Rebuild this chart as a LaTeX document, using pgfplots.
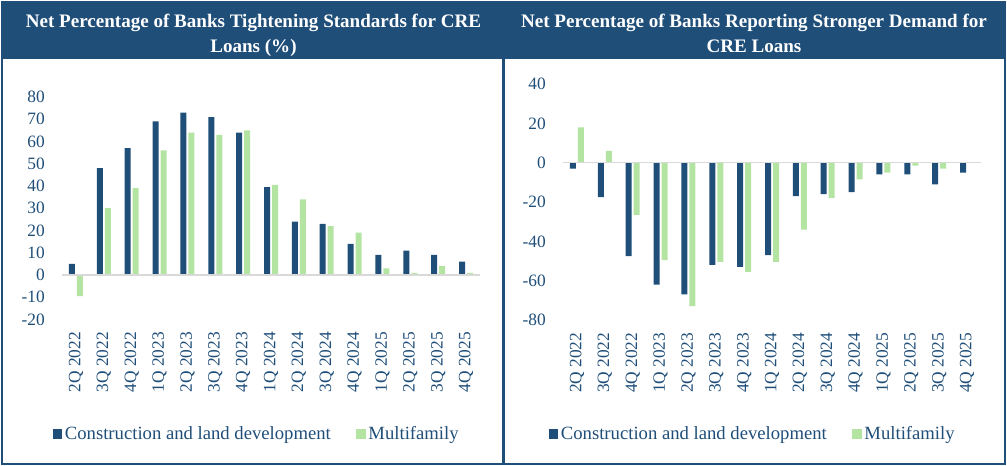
\documentclass[border=0pt]{standalone}
\usepackage{fontspec}
\setmainfont{Liberation Serif}
\usepackage{pgfplots}
\pgfplotsset{compat=1.18}
\definecolor{navy}{HTML}{1F4E79}
\definecolor{lgreen}{HTML}{B4E4A1}
\definecolor{zline}{HTML}{D9D9D9}
\pgfplotsset{
  mybars/.style={
    scale only axis, width=313.5pt, anchor=south west,
    ybar=1.5pt, bar width=4.5pt,
    xmin=-0.5, xmax=14.5, enlargelimits=false,
    xtick={0,...,14},
    xticklabels={2Q 2022,3Q 2022,4Q 2022,1Q 2023,2Q 2023,3Q 2023,4Q 2023,1Q 2024,2Q 2024,3Q 2024,4Q 2024,1Q 2025,2Q 2025,3Q 2025,4Q 2025},
    axis line style={draw=none}, major tick length=0pt, tick style={draw=none},
    xtick pos=bottom, ytick pos=left,
    /pgf/number format/assume math mode=true,
    xticklabel style={yshift=-9.4pt, rotate=90, anchor=east, inner sep=0pt, font=\fontsize{13}{15}\selectfont, text=navy},
    yticklabel style={anchor=east, inner sep=0pt, xshift=-12.75pt, font=\fontsize{13}{15}\selectfont, text=navy},
    legend columns=2, legend cell align=left,
    legend style={draw=none, fill=none, anchor=center, font=\fontsize{14}{16}\selectfont, text=navy,
      /tikz/every even column/.append style={column sep=17pt}},
    legend image code/.code={\draw[##1,/tikz/.cd,draw=none] (0pt,-3.6pt) rectangle (7.2pt,3.6pt);},
  }
}
\begin{document}
\begin{tikzpicture}
\path[use as bounding box] (0,0) rectangle (755.25pt,349.5pt);
\fill[navy] (0.6pt,305.25pt) rectangle (754.6pt,348.5pt);
\draw[navy, line width=1.9pt] (1.5pt,305.25pt) -- (1.5pt,1.5pt) -- (753.75pt,1.5pt) -- (753.75pt,305.25pt);
\draw[navy, line width=2.2pt] (377.6pt,305.25pt) -- (377.6pt,1.5pt);
\node[anchor=base, text=white, font=\fontsize{14.3}{18}\selectfont\bfseries] at (190.1pt,328.5pt) {Net Percentage of Banks Tightening Standards for CRE};
\node[anchor=base, text=white, font=\fontsize{14.3}{18}\selectfont\bfseries] at (190.1pt,309.75pt) {Loans (\%)};
\node[anchor=base, text=white, font=\fontsize{14.3}{18}\selectfont\bfseries] at (565.5pt,328.5pt) {Net Percentage of Banks Reporting Stronger Demand for};
\node[anchor=base, text=white, font=\fontsize{14.3}{18}\selectfont\bfseries] at (565.5pt,309.75pt) {CRE Loans};

\begin{axis}[mybars, at={(46.5pt,109.875pt)}, height=166.875pt,
  ymin=-20, ymax=80, ytick={-20,-10,...,80},
  legend style={at={(0.4665,-0.5146)}}]
\addplot[fill=navy, draw=none] coordinates {(0,5) (1,48) (2,57) (3,69) (4,73) (5,71) (6,64) (7,39.5) (8,24) (9,23) (10,14) (11,9) (12,11) (13,9) (14,6)};
\addplot[fill=lgreen, draw=none] coordinates {(0,-9.5) (1,30) (2,39) (3,56) (4,64) (5,63) (6,65) (7,40.5) (8,34) (9,22) (10,19) (11,3) (12,1) (13,4) (14,1)};
\draw[zline, line width=1.1pt] (axis cs:-0.5,0) -- (axis cs:14.5,0);
\legend{Construction and land development, Multifamily}
\end{axis}

\begin{axis}[mybars, at={(422.25pt,109.5pt)}, height=177pt,
  ymin=-80, ymax=40, ytick={-80,-60,...,40},
  legend style={at={(0.4545,-0.483)}}]
\addplot[fill=navy, draw=none] coordinates {(0,-3) (1,-17.5) (2,-47.5) (3,-62) (4,-67) (5,-52) (6,-53) (7,-47) (8,-17) (9,-16) (10,-15) (11,-6) (12,-6) (13,-11) (14,-5)};
\addplot[fill=lgreen, draw=none] coordinates {(0,18) (1,6) (2,-26.5) (3,-49.5) (4,-73) (5,-50.5) (6,-55.5) (7,-50.5) (8,-34) (9,-18) (10,-8.5) (11,-5) (12,-1.5) (13,-3) (14,0)};
\draw[zline, line width=1.1pt] (axis cs:-0.5,0) -- (axis cs:14.5,0);
\legend{Construction and land development, Multifamily}
\end{axis}
\end{tikzpicture}
\end{document}
